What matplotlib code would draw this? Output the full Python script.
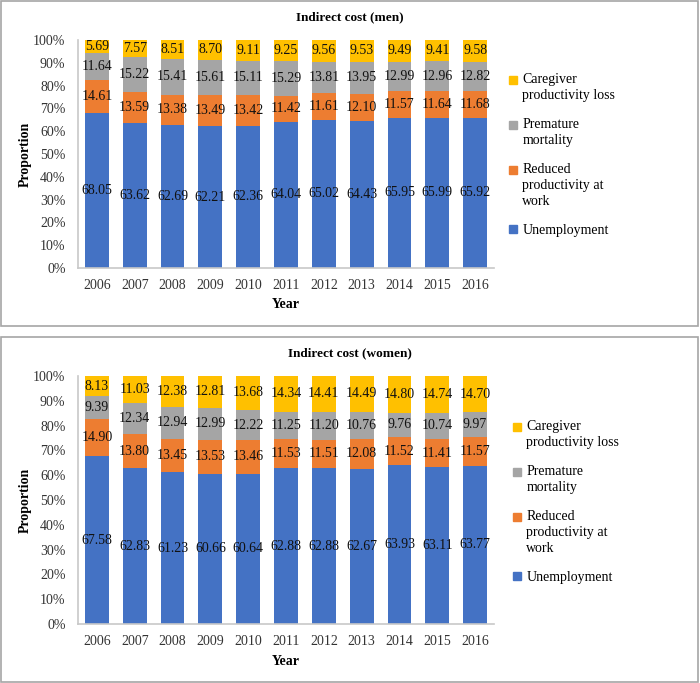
import matplotlib.pyplot as plt
import matplotlib.patches as mpatches
from matplotlib.legend_handler import HandlerPatch
import numpy as np

plt.rcParams['font.family'] = ['Liberation Serif', 'DejaVu Serif']

years = ["2006", "2007", "2008", "2009", "2010", "2011", "2012", "2013", "2014", "2015", "2016"]

# men
men_unemp = [68.05, 63.62, 62.69, 62.21, 62.36, 64.04, 65.02, 64.43, 65.95, 65.99, 65.92]
men_reduced = [14.61, 13.59, 13.38, 13.49, 13.42, 11.42, 11.61, 12.10, 11.57, 11.64, 11.68]
men_premature = [11.64, 15.22, 15.41, 15.61, 15.11, 15.29, 13.81, 13.95, 12.99, 12.96, 12.82]
men_caregiver = [5.69, 7.57, 8.51, 8.70, 9.11, 9.25, 9.56, 9.53, 9.49, 9.41, 9.58]

# women
women_unemp = [67.58, 62.83, 61.23, 60.66, 60.64, 62.88, 62.88, 62.67, 63.93, 63.11, 63.77]
women_reduced = [14.90, 13.80, 13.45, 13.53, 13.46, 11.53, 11.51, 12.08, 11.52, 11.41, 11.57]
women_premature = [9.39, 12.34, 12.94, 12.99, 12.22, 11.25, 11.20, 10.76, 9.76, 10.74, 9.97]
women_caregiver = [8.13, 11.03, 12.38, 12.81, 13.68, 14.34, 14.41, 14.49, 14.80, 14.74, 14.70]

series_names = ["Unemployment", "Reduced\nproductivity at\nwork", "Premature\nmortality",
                "Caregiver\nproductivity loss"]
colors = ["#4472C4", "#ED7D31", "#A5A5A5", "#FFC000"]

W, H = 700, 683
FS = 10
LINE_PT = 11.0  # legend line height in points
fig = plt.figure(figsize=(7.0, 6.83), dpi=100)


def first_line_square(legend, orig_handle, xdescent, ydescent, width, height, fontsize):
    # put the square next to the first line of a multi-line label
    n = orig_handle.get_label().count("\n") + 1
    shift = (n - 1) / 2 * LINE_PT
    s = 0.6 * fontsize
    return mpatches.Rectangle((-xdescent, -ydescent + (height - s) / 2 + shift), s, s)


def draw_panel(rect, data, title, title_y, leg_xy, xlab_y):
    ax = fig.add_axes(rect)
    x = np.arange(len(years))
    bottom = np.zeros(len(years))
    for vals, col in zip(data, colors):
        bars = ax.bar(x, vals, 0.63, bottom=bottom, color=col)
        ax.bar_label(bars, labels=[f"{v:.2f}" for v in vals], label_type="center",
                     fontsize=FS, color="#111111")
        bottom += np.array(vals)
    ax.set_xlim(-0.5, len(years) - 0.5)
    ax.set_ylim(0, 100)
    ax.set_yticks(np.arange(0, 101, 10))
    ax.set_yticklabels([f"{t}%" for t in range(0, 101, 10)])
    ax.set_xticks(x)
    ax.set_xticklabels(years)
    ax.tick_params(length=0, labelsize=FS, colors="#333333")
    ax.tick_params(axis="y", pad=9)
    ax.tick_params(axis="x", pad=8)
    for s in ["top", "right"]:
        ax.spines[s].set_visible(False)
    for s in ["left", "bottom"]:
        ax.spines[s].set_color("#c8c8c8")
        ax.spines[s].set_linewidth(1.2)
    ax.set_ylabel("Proportion", fontweight="bold", fontsize=FS)
    ax.yaxis.set_label_coords(-0.11, 0.5)
    ax.set_xlabel("Year", fontweight="bold", fontsize=FS)
    ax.xaxis.set_label_coords(0.5, xlab_y)
    fig.text(0.5, title_y, title, ha="center", va="center", fontweight="bold", fontsize=9.5)

    handles = [mpatches.Patch(color=c, label=n) for c, n in zip(colors, series_names)][::-1]
    leg = ax.legend(handles=handles, loc="upper left", bbox_to_anchor=leg_xy,
                    bbox_transform=fig.transFigure, frameon=False, fontsize=FS,
                    handlelength=0.7, handleheight=0.7, handletextpad=0.25,
                    labelspacing=1.15, borderpad=0, borderaxespad=0,
                    handler_map={mpatches.Patch: HandlerPatch(patch_func=first_line_square)})
    for t in leg.get_texts():
        t.set_linespacing(1.3)
    return ax


draw_panel([78 / W, 1 - 268 / H, 416 / W, 228 / H],
           [men_unemp, men_reduced, men_premature, men_caregiver],
           "Indirect cost (men)", 1 - 17 / H, (509 / W, 1 - 73 / H), -0.132)
draw_panel([78 / W, 1 - 624 / H, 416 / W, 248 / H],
           [women_unemp, women_reduced, women_premature, women_caregiver],
           "Indirect cost (women)", 1 - 353 / H, (513 / W, 1 - 420 / H), -0.125)

# panel borders
for y0, y1 in [(1, 326), (337, 682)]:
    fig.patches.append(mpatches.Rectangle((1 / W, 1 - y1 / H), 697 / W, (y1 - y0) / H,
                                          transform=fig.transFigure, fill=False,
                                          edgecolor="#a6a6a6", linewidth=1.2))

fig.savefig("out.png", dpi=100)
